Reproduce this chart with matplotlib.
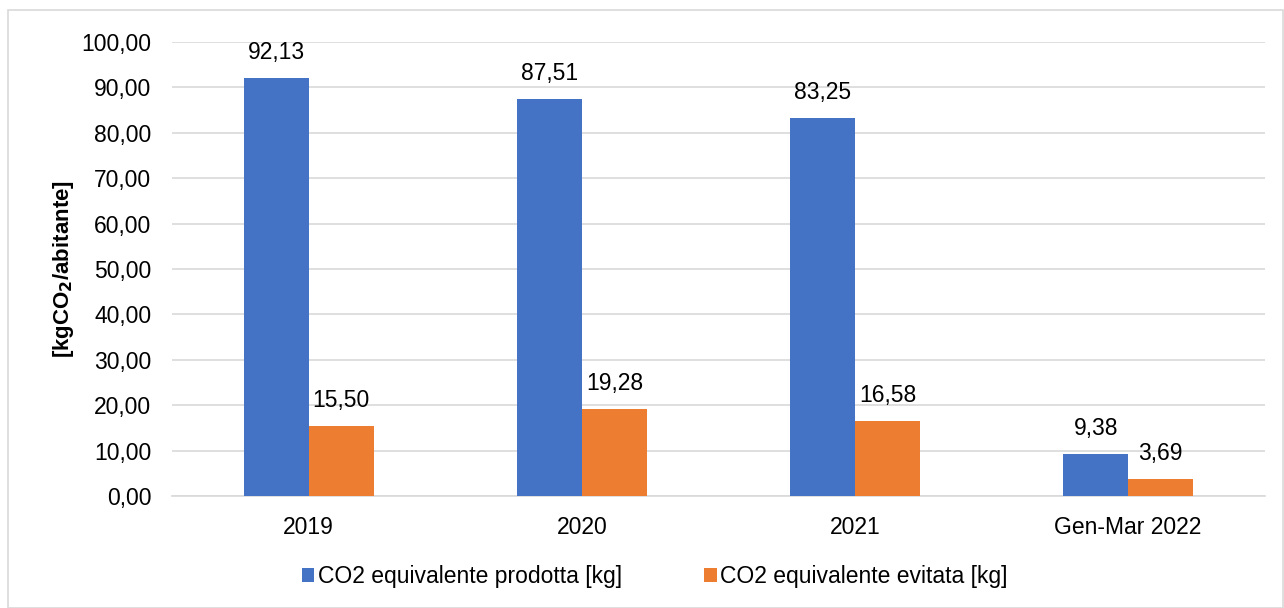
import matplotlib.pyplot as plt
import numpy as np
from matplotlib.patches import Rectangle

plt.rcParams['font.family'] = ['Liberation Sans', 'DejaVu Sans']

# Data
categories = ['2019', '2020', '2021', 'Gen-Mar 2022']
prodotta = [92.13, 87.51, 83.25, 9.38]
evitata = [15.50, 19.28, 16.58, 3.69]
series_names = ['CO2 equivalente prodotta [kg]', 'CO2 equivalente evitata [kg]']

blue = '#4472C4'
orange = '#ED7D31'
fs = 16.5

fig = plt.figure(figsize=(12.84, 6.08), dpi=100)
ax = fig.add_axes([0.134, 0.184, 0.851, 0.747])

x = np.arange(len(categories))
w = 0.238
b1 = ax.bar(x - w / 2, prodotta, w, color=blue, label=series_names[0], zorder=3)
b2 = ax.bar(x + w / 2, evitata, w, color=orange, label=series_names[1], zorder=3)


def fmt(v):
    return f'{v:.2f}'.replace('.', ',')


for bars, vals in [(b1, prodotta), (b2, evitata)]:
    for bar, v in zip(bars, vals):
        ax.annotate(fmt(v), (bar.get_x() + bar.get_width() / 2, bar.get_height()),
                    xytext=(0, 10), textcoords='offset points',
                    ha='center', va='bottom', fontsize=fs, color='black')

ax.set_xlim(-0.5, len(categories) - 0.5)
ax.set_ylim(0, 100)
ax.set_yticks(np.arange(0, 101, 10))
ax.set_yticklabels([fmt(t) for t in np.arange(0, 101, 10)], fontsize=fs)
ax.set_xticks(x)
ax.set_xticklabels(categories, fontsize=fs)
ax.tick_params(axis='y', length=0, pad=15)
ax.tick_params(axis='x', length=0, pad=14)
ax.grid(axis='y', color='#D9D9D9', linewidth=1.2, zorder=0)
for s in ['top', 'right', 'left']:
    ax.spines[s].set_visible(False)
ax.spines['bottom'].set_color('#D9D9D9')
ax.spines['bottom'].set_linewidth(1.2)

ax.set_ylabel(r'[kgCO$_\mathbf{2}$/abitante]', fontsize=16, fontweight='bold', labelpad=4)

fig.legend(handles=[b1, b2], labels=series_names, loc='center', bbox_to_anchor=(0.51, 0.051),
           ncol=2, frameon=False, fontsize=fs, handlelength=0.55, handleheight=0.55,
           handletextpad=0.15, columnspacing=3.6)

fig.patches.append(Rectangle((8 / 1284, 0), 1 - 8 / 1284 - 0.0008, 1 - 10 / 608,
                             transform=fig.transFigure, fill=False,
                             edgecolor='#D9D9D9', linewidth=1.2))

fig.savefig('out.png', dpi=100)
